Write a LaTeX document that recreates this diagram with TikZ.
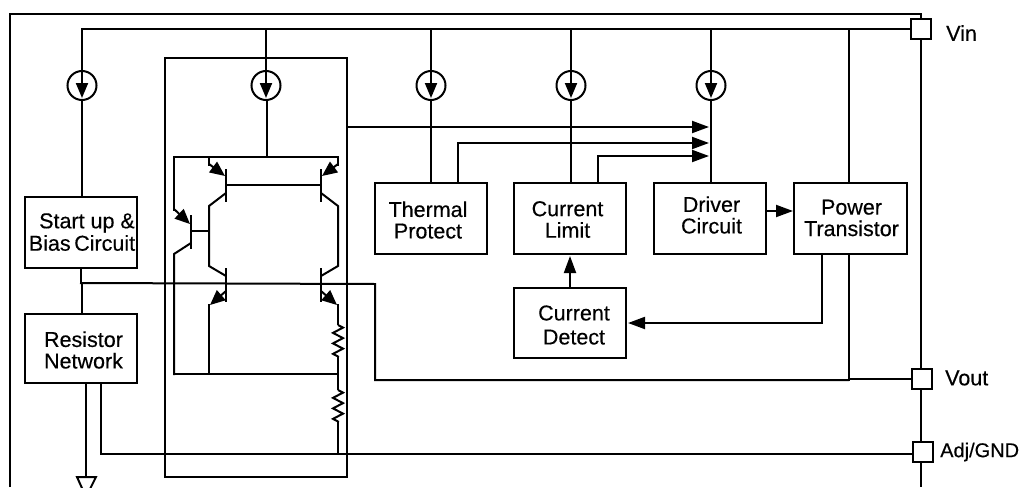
\documentclass[tikz,border=0pt]{standalone}
\usepackage{fontspec}
\setmainfont{Liberation Sans}[FakeBold=0.35]
\usetikzlibrary{arrows.meta,decorations.pathmorphing}
\tikzset{
  x=1pt,y=-1pt,
  wire/.style={line width=2pt,line cap=butt,line join=miter},
  arr/.style={wire,-{Triangle[length=17pt,width=12pt]}},
  srcarr/.style={wire,-{Triangle[length=15pt,width=12pt]}},
  tip/.style={wire,-{Triangle[length=15pt,width=13pt]}},
  block/.style={draw,line width=2pt,anchor=north west,inner sep=0pt,outer sep=0pt},
  txt/.style={inner sep=0pt,align=center,font=\fontsize{21.5}{21.5}\selectfont},
  pin/.style={draw,fill=white,line width=2pt,minimum size=20pt,inner sep=0pt,outer sep=0pt},
  pinlabel/.style={anchor=west,inner sep=0pt,font=\fontsize{21.5}{24}\selectfont},
  src/.style={draw,circle,line width=2pt,minimum size=29pt,inner sep=0pt,outer sep=0pt},
  res/.style={wire,decorate,decoration={zigzag,amplitude=5pt,segment length=10.5pt}},
}
\begin{document}
\begin{tikzpicture}
\useasboundingbox (0,0) rectangle (1024,487);
% blocks
\node[block,minimum width=112pt,minimum height=71pt] (start) at (25,197) {};
\node[block,minimum width=112pt,minimum height=69pt] (rnet) at (25,314) {};
\node[block,minimum width=112pt,minimum height=71pt] (therm) at (375,183) {};
\node[block,minimum width=112pt,minimum height=71pt] (limit) at (514,183) {};
\node[block,minimum width=112pt,minimum height=71pt] (driver) at (654,183) {};
\node[block,minimum width=113pt,minimum height=71pt] (power) at (794,183) {};
\node[block,minimum width=112pt,minimum height=70pt] (detect) at (514,288) {};
\node[block,minimum width=182pt,minimum height=419pt] (ic) at (165,58) {};
% block texts
\node[txt] (t1a) at (87,223) {Start up \&};
\node[txt] (t1b) at (82,243) {Bias\,Circuit};
\node[txt] (t2) at (83.5,350) {Resistor\\Network};
\node[txt] (t3) at (428,220) {Thermal\\Protect};
\node[txt] (t4) at (567.5,219.5) {Current\\Limit};
\node[txt] (t5) at (711.5,215) {Driver\\Circuit};
\node[txt] (t6) at (851.5,218) {Power\\Transistor};
\node[txt,font=\fontsize{21.5}{24}\selectfont] (t7) at (574,325) {Current\\Detect};
% frame
\coordinate (f1) at (10,487); \coordinate (f2) at (10,14); \coordinate (f3) at (921,14); \coordinate (f4) at (921,487);
\draw[wire] (f1) -- (f2) -- (f3) -- (f4);
% pins
\node[pin] (vin) at (921,29) {};
\node[pin] (vout) at (922,379) {};
\node[pin] (adj) at (923,452) {};
\coordinate (adjin) at (913,454);
\node[pinlabel] (vinl) at (946,33) {Vin};
\node[pinlabel] (voutl) at (945,378) {Vout};
\node[pinlabel,font=\fontsize{20}{24}\selectfont] (adjl) at (940,452) {Adj/GND};
% current sources
\foreach \n/\x in {s1/82,s2/266,s3/431,s4/571,s5/711}{
  \node[src] (\n) at (\x,85.5) {};
  \coordinate (\n top) at (\x,29);
  \draw[wire] (\n top) -- (\x,83);
  \draw[srcarr] (\x,80) -- (\x,98);
}
\draw[wire] (81,29) -- (vin.west);
\draw[wire] (s1.south) -- (start.north -| s1);
\draw[wire] (s3.south) -- (therm.north -| s3);
\draw[wire] (s4.south) -- (limit.north -| s4);
\draw[wire] (s5.south) -- (driver.north -| s5);
% Vin to power
\coordinate (pwtop) at (849,29);
\draw[wire] (pwtop) -- (pwtop |- power.north);
% feedback
\coordinate (fbend) at (709,127);
\coordinate (fb2) at (709,143);
\coordinate (fb3) at (709,156);
\draw[arr] (347,127) -- (fbend);
\draw[arr] (458,183) -- (458,143) -- (fb2);
\draw[arr] (598,183) -- (598,156) -- (fb3);
\draw[arr] (767,211) -- (793,211);
\draw[arr] (570,288) -- (570,256);
\draw[arr] (822,254) -- (822,323) -- (628,323);
% Bias / Vout
\draw[wire] (81,268) -- (81,284);
\draw[wire] (82,283) -- (82,314);
\draw[wire] (80,283) -- (375,284) -- (375,380) -- (849,380);
\draw[wire] (849,254) -- (849,381);
\draw[wire] (849,379) -- (vout.west);
% adj and ground
\draw[wire] (101,383) -- (101,454) -- (adjin);
\draw[wire] (86,383) -- (86,477);
\draw[wire] (77,477) -- (96,477) -- (86,497) -- cycle;
% transistor array
\draw[wire] (267,99) -- (267,157);
\draw[wire] (173,157) -- (339,157);
\draw[wire] (226,169) -- (226,202);
\draw[wire] (321,169) -- (321,202);
\draw[wire] (226,185) -- (321,185);
% upper emitters
\draw[wire] (209,156) -- (209,166);
\draw[tip] (209,164) -- (225,176);
\draw[wire] (338,156) -- (338,166);
\draw[tip] (338,164) -- (322,176);
% collectors
\draw[wire] (226,193) -- (209,206) -- (209,266) -- (226,276);
\draw[wire] (321,193) -- (338,206) -- (338,266) -- (321,276);
% diode transistor
\draw[wire] (174,156) -- (174,211);
\draw[tip] (174,209) -- (190,224);
\draw[wire] (191,215) -- (191,249);
\draw[wire] (191,231) -- (209,231);
\draw[wire] (191,243) -- (174,254) -- (174,375);
% lower transistors
\draw[wire] (226,268) -- (226,302);
\draw[wire] (321,268) -- (321,302);
\draw[tip] (226,291) -- (210,305);
\draw[wire] (209,304) -- (209,374);
\draw[tip] (321,291) -- (337,305);
% resistors
\draw[wire] (338,304) -- (338,325);
\draw[res] (338,325) -- (338,357);
\draw[wire] (338,357) -- (338,390);
\draw[res] (338,390) -- (338,422);
\draw[wire] (338,422) -- (338,454);
\draw[wire] (174,374) -- (338,374);
\end{tikzpicture}
\end{document}
